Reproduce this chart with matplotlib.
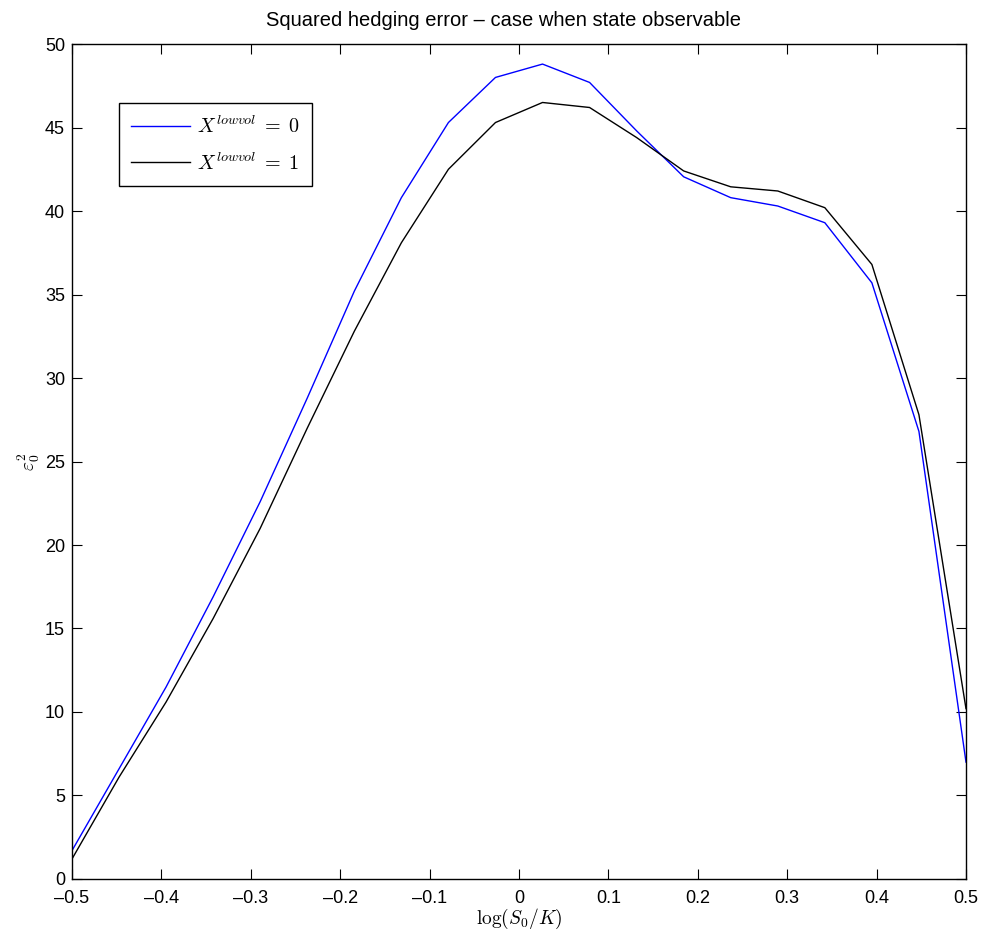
import numpy as np
import matplotlib
matplotlib.use('Agg')
import matplotlib.pyplot as plt

# log-moneyness grid (20 points between -0.5 and 0.5)
log_moneyness = np.linspace(-0.5, 0.5, 20)

# squared hedging error, low-vol state = 0 and = 1
err_state0 = [1.7, 6.6, 11.5, 16.9, 22.6, 28.8, 35.2, 40.8, 45.3, 48.0,
              48.8, 47.7, 44.8, 42.05, 40.8, 40.3, 39.3, 35.7, 26.8, 7.0]
err_state1 = [1.2, 6.1, 10.6, 15.6, 21.0, 27.0, 32.8, 38.1, 42.5, 45.3,
              46.5, 46.2, 44.4, 42.4, 41.45, 41.2, 40.2, 36.8, 27.8, 10.2]

labels = [r'$X^{lowvol}\;=\;0$', r'$X^{lowvol}\;=\;1$']
xtick_vals = np.arange(-0.5, 0.51, 0.1)
xtick_text = ['\u20130.5', '\u20130.4', '\u20130.3', '\u20130.2', '\u20130.1', '0',
              '0.1', '0.2', '0.3', '0.4', '0.5']

plt.rcParams['font.family'] = ['Liberation Sans', 'DejaVu Sans']
plt.rcParams['mathtext.fontset'] = 'cm'

fig = plt.figure(figsize=(9.81, 9.33), dpi=100)
ax = fig.add_axes([0.0734, 0.0579, 0.9113, 0.8949])

ax.plot(log_moneyness, err_state0, color='blue', lw=1.0, label=labels[0])
ax.plot(log_moneyness, err_state1, color='black', lw=1.0, label=labels[1])

ax.set_xlim(-0.5, 0.5)
ax.set_ylim(0, 50)
ax.set_xticks(xtick_vals)
ax.set_xticklabels(xtick_text)
ax.set_yticks(np.arange(0, 51, 5))
ax.tick_params(direction='in', top=True, right=True, labelsize=13, length=7, width=0.8)
ax.tick_params(axis='x', pad=8)
ax.tick_params(axis='y', pad=5)
for s in ax.spines.values():
    s.set_linewidth(1.0)

ax.set_xlabel(r'$\log(S_0/K)$', fontsize=14, labelpad=0)
ax.set_ylabel(r'$\varepsilon_0^2$', fontsize=14, labelpad=2)
ax.set_title('Squared hedging error \u2013 case when state observable', fontsize=14.5,
             pad=13, x=0.483)

leg = ax.legend(loc='upper left', bbox_to_anchor=(0.0526, 0.929), borderaxespad=0,
                fontsize=14.5, frameon=True, fancybox=False, edgecolor='black',
                framealpha=1, handlelength=2.9, handletextpad=0.35,
                borderpad=0.6, labelspacing=0.75)
leg.get_frame().set_linewidth(1.0)

fig.savefig('out.png', dpi=100)
